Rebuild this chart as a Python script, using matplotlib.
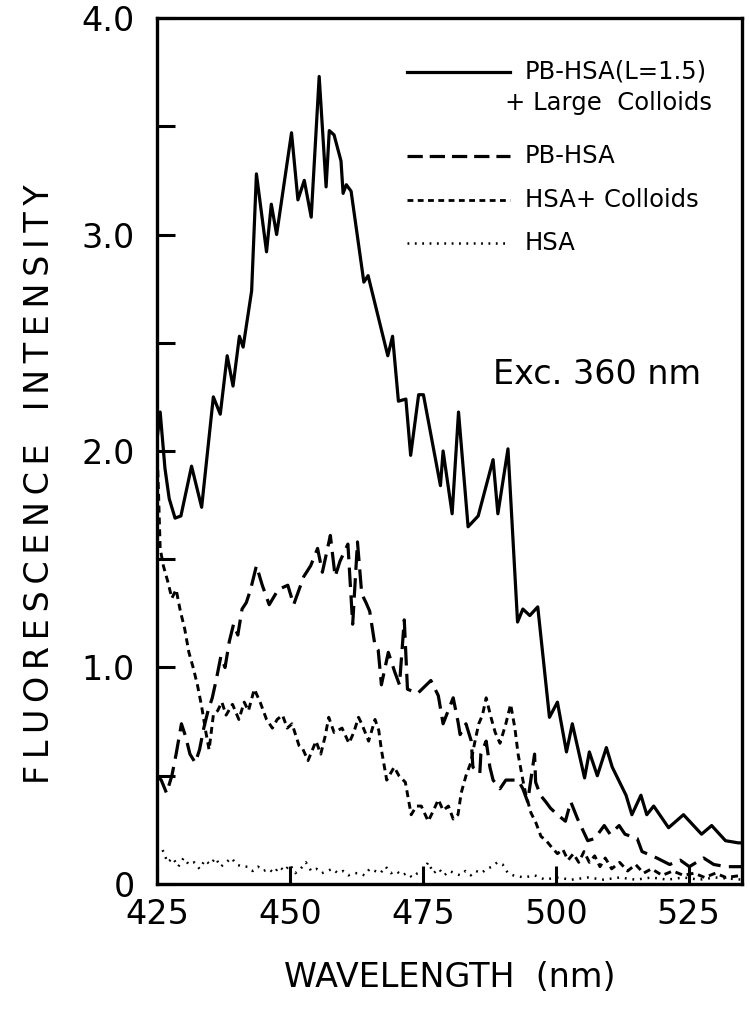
import matplotlib
matplotlib.use("Agg")
import matplotlib.pyplot as plt
from matplotlib.ticker import MultipleLocator

# PB-HSA(L=1.5) + Large Colloids (solid)
wl_solid = [425.0, 425.6, 426.5, 427.3, 428.4, 429.5, 431.5, 433.4, 435.6, 436.9, 438.2, 439.3, 440.5, 441.2, 442.8,
            443.7, 445.6, 446.5, 447.5, 450.3, 451.5, 452.7, 454.0, 455.5, 456.8, 457.4, 458.3, 459.6, 460.0, 460.6,
            461.5, 463.9, 464.7, 466.6, 468.4, 469.3, 470.4, 471.8, 472.7, 474.2, 475.1, 478.3, 478.8, 480.5, 481.7,
            483.5, 485.4, 488.2, 489.1, 491.0, 492.8, 493.8, 495.1, 496.6, 498.8, 500.3, 502.0, 503.1, 505.4, 506.3,
            507.8, 509.5, 510.6, 513.2, 514.3, 516.0, 517.1, 518.4, 521.2, 524.0, 527.4, 529.3, 531.9, 534.3, 535.0]
solid = [2.05, 2.18, 1.92, 1.78, 1.69, 1.70, 1.93, 1.74, 2.25, 2.17, 2.44, 2.30, 2.53, 2.48, 2.74,
         3.28, 2.92, 3.14, 3.00, 3.47, 3.16, 3.25, 3.08, 3.73, 3.22, 3.48, 3.46, 3.34, 3.19, 3.23,
         3.20, 2.78, 2.81, 2.62, 2.44, 2.53, 2.23, 2.24, 1.98, 2.26, 2.26, 1.84, 2.00, 1.71, 2.18,
         1.65, 1.70, 1.96, 1.71, 2.01, 1.21, 1.27, 1.24, 1.28, 0.77, 0.84, 0.61, 0.74, 0.49, 0.61,
         0.50, 0.63, 0.54, 0.41, 0.32, 0.41, 0.32, 0.36, 0.26, 0.32, 0.23, 0.27, 0.20, 0.19, 0.19]

# PB-HSA (long dash)
wl_pb = [425.0, 425.8, 426.8, 427.8, 428.6, 429.6, 430.4, 431.2, 432.2, 433.0, 433.8, 434.6, 435.4, 436.2, 437.0,
         437.8, 438.6, 439.4, 440.2, 441.0, 441.8, 442.6, 443.7, 444.8, 446.1, 447.8, 449.6, 450.7, 452.6, 453.9,
         455.2, 456.1, 457.6, 458.5, 459.4, 460.9, 461.8, 462.7, 463.5, 464.3, 465.0, 466.0, 466.6, 467.2, 468.5,
         469.7, 470.6, 471.5, 472.1, 474.0, 476.5, 477.9, 478.8, 480.7, 481.6, 482.0, 483.1, 484.1, 484.4, 485.7,
         485.9, 486.9, 487.6, 488.2, 489.5, 490.6, 491.8, 492.9, 493.8, 494.7, 496.0, 496.2, 497.1, 498.1, 499.0,
         500.3, 501.8, 502.8, 504.1, 506.0, 507.3, 509.1, 510.2, 511.9, 513.0, 515.3, 516.2, 519.0, 521.4, 523.4,
         525.1, 527.8, 529.7, 532.1, 535.0]
pb = [0.50, 0.48, 0.42, 0.50, 0.60, 0.74, 0.68, 0.60, 0.56, 0.62, 0.72, 0.80, 0.86, 0.95, 1.05,
      1.00, 1.12, 1.20, 1.15, 1.27, 1.30, 1.36, 1.47, 1.38, 1.29, 1.36, 1.38, 1.29, 1.42, 1.47,
      1.55, 1.44, 1.61, 1.42, 1.49, 1.57, 1.20, 1.58, 1.34, 1.30, 1.26, 1.10, 1.08, 0.92, 1.07,
      0.98, 0.92, 1.22, 0.90, 0.88, 0.94, 0.87, 0.74, 0.86, 0.75, 0.69, 0.74, 0.66, 0.54, 0.51,
      0.60, 0.66, 0.54, 0.48, 0.44, 0.48, 0.48, 0.48, 0.44, 0.38, 0.60, 0.47, 0.41, 0.38, 0.35,
      0.32, 0.29, 0.38, 0.30, 0.20, 0.21, 0.27, 0.23, 0.27, 0.23, 0.21, 0.15, 0.12, 0.09, 0.11,
      0.08, 0.12, 0.09, 0.08, 0.08]

# HSA + Colloids (short dash)
wl_col = [425.0, 425.3, 425.6, 426.2, 427.0, 427.8, 428.6, 429.4, 430.2, 431.0, 431.8, 432.6, 433.4, 434.2, 434.8,
          435.6, 436.4, 437.2, 438.0, 439.2, 440.4, 441.4, 442.2, 443.3, 444.4, 445.6, 446.7, 447.6, 448.6, 449.5,
          450.4, 451.7, 452.3, 453.4, 454.9, 455.8, 456.6, 457.3, 458.3, 459.8, 461.1, 462.0, 462.9, 463.5, 464.8,
          466.0, 466.7, 467.2, 468.2, 469.6, 470.5, 471.7, 472.8, 473.8, 474.7, 476.0, 477.0, 477.9, 478.8, 479.8,
          480.7, 481.6, 482.2, 483.1, 484.0, 484.8, 485.5, 486.2, 486.9, 487.8, 488.6, 489.5, 490.6, 491.5, 492.3,
          492.9, 493.8, 494.3, 495.3, 496.3, 497.2, 498.2, 499.2, 500.3, 501.3, 502.3, 503.3, 504.3, 505.3, 506.3,
          507.3, 508.3, 509.3, 510.5, 512.0, 513.5, 515.0, 516.5, 518.0, 520.0, 522.0, 524.0, 526.0, 528.0, 530.0,
          532.0, 535.0]
col = [2.02, 1.80, 1.55, 1.47, 1.40, 1.32, 1.36, 1.26, 1.18, 1.07, 1.00, 0.92, 0.82, 0.70, 0.62,
       0.78, 0.80, 0.84, 0.78, 0.83, 0.76, 0.84, 0.80, 0.90, 0.84, 0.76, 0.72, 0.76, 0.78, 0.72,
       0.74, 0.64, 0.63, 0.57, 0.66, 0.60, 0.68, 0.77, 0.70, 0.72, 0.65, 0.70, 0.77, 0.74, 0.66,
       0.76, 0.71, 0.62, 0.48, 0.54, 0.50, 0.47, 0.32, 0.36, 0.36, 0.29, 0.34, 0.39, 0.34, 0.36,
       0.30, 0.32, 0.42, 0.50, 0.56, 0.66, 0.74, 0.78, 0.86, 0.77, 0.70, 0.65, 0.74, 0.83, 0.72,
       0.60, 0.48, 0.42, 0.33, 0.28, 0.22, 0.20, 0.17, 0.14, 0.16, 0.11, 0.14, 0.10, 0.15, 0.10,
       0.13, 0.08, 0.12, 0.07, 0.10, 0.06, 0.09, 0.05, 0.07, 0.04, 0.06, 0.04, 0.05, 0.03, 0.05,
       0.03, 0.04]

# HSA (dotted)
wl_hsa = list(range(425, 493)) + [494, 496, 498, 500, 503, 506, 509, 512, 515, 518, 521, 524, 527, 530, 535]
hsa = [0.14, 0.16, 0.10, 0.12, 0.08, 0.12, 0.09, 0.10, 0.07, 0.11,
       0.09, 0.12, 0.08, 0.10, 0.12, 0.09, 0.08, 0.08, 0.06, 0.08,
       0.06, 0.07, 0.05, 0.08, 0.06, 0.09, 0.05, 0.07, 0.10, 0.06,
       0.07, 0.05, 0.06, 0.07, 0.05, 0.06, 0.04, 0.05, 0.05, 0.04,
       0.07, 0.06, 0.05, 0.08, 0.05, 0.06, 0.04, 0.05, 0.03, 0.05,
       0.06, 0.10, 0.05, 0.07, 0.04, 0.06, 0.05, 0.04, 0.06, 0.04,
       0.06, 0.05, 0.07, 0.08, 0.10, 0.09, 0.05, 0.04,
       0.03, 0.04, 0.02, 0.03, 0.02, 0.03, 0.02, 0.03, 0.02, 0.03, 0.02, 0.03, 0.02, 0.03, 0.02]

x_ticks = [425, 450, 475, 500, 525]
y_ticks = [0, 1, 2, 3, 4]
y_ticklabels = ['0', '1.0', '2.0', '3.0', '4.0']

plt.rcParams['font.family'] = ['DejaVu Sans']
plt.rcParams['lines.scale_dashes'] = False

fig = plt.figure(figsize=(7.5, 10.35), dpi=100)
ax = fig.add_axes([0.2093, 0.1459, 0.78, 0.8367])

lw = 2.3
long_dash = (14, 6)
short_dash = (5, 3.5)
dots = (1.3, 4.2)

ax.plot(wl_solid, solid, color='k', lw=lw)
ax.plot(wl_pb, pb, color='k', lw=lw, dashes=long_dash)
ax.plot(wl_col, col, color='k', lw=2.1, dashes=short_dash)
ax.plot(wl_hsa, hsa, color='k', lw=1.8, dashes=dots)

ax.set_xlim(425, 535)
ax.set_ylim(0, 4)
ax.set_xticks(x_ticks)
ax.set_yticks(y_ticks)
ax.set_yticklabels(y_ticklabels)
ax.yaxis.set_minor_locator(MultipleLocator(0.5))
ax.tick_params(which='both', direction='in', length=13, width=2.2, top=False, right=False)
ax.tick_params(axis='x', labelsize=24, pad=10)
ax.tick_params(axis='y', labelsize=24, pad=16)
for s in ax.spines.values():
    s.set_linewidth(2.4)

ax.set_xlabel('WAVELENGTH  (nm)', fontsize=24, labelpad=22)
ylab = '\u2009'.join('FLUORESCENCE') + '\u2009' * 5 + '\u2009'.join('INTENSITY')
ax.set_ylabel(ylab, fontsize=24)
ax.yaxis.set_label_coords(-0.172, 0.462)

# legend drawn by hand
tr = ax.transAxes
x0, x1, xt = 0.427, 0.604, 0.629
rows = [0.938, 0.841, 0.790, 0.740]
ax.plot([x0, x1], [rows[0]] * 2, color='k', lw=lw, transform=tr)
ax.plot([x0, x1], [rows[1]] * 2, color='k', lw=lw, dashes=(11, 5), transform=tr)
ax.plot([x0, x1], [rows[2]] * 2, color='k', lw=2.0, dashes=(4.2, 3.2), transform=tr)
ax.plot([x0, x1], [rows[3]] * 2, color='k', lw=1.8, dashes=(1.3, 4.0), transform=tr)
fs = 17.5
ax.text(xt, rows[0], 'PB-HSA(L=1.5)', fontsize=fs, va='center', ha='left', transform=tr)
ax.text(0.595, 0.902, '+ Large  Colloids', fontsize=fs, va='center', ha='left', transform=tr)
ax.text(xt, rows[1], 'PB-HSA', fontsize=fs, va='center', ha='left', transform=tr)
ax.text(xt, rows[2], 'HSA+ Colloids', fontsize=fs, va='center', ha='left', transform=tr)
ax.text(xt, rows[3], 'HSA', fontsize=fs, va='center', ha='left', transform=tr)

ax.text(0.752, 0.588, 'Exc. 360 nm', fontsize=24, va='center', ha='center', transform=tr)

fig.savefig('out.png', dpi=100)
